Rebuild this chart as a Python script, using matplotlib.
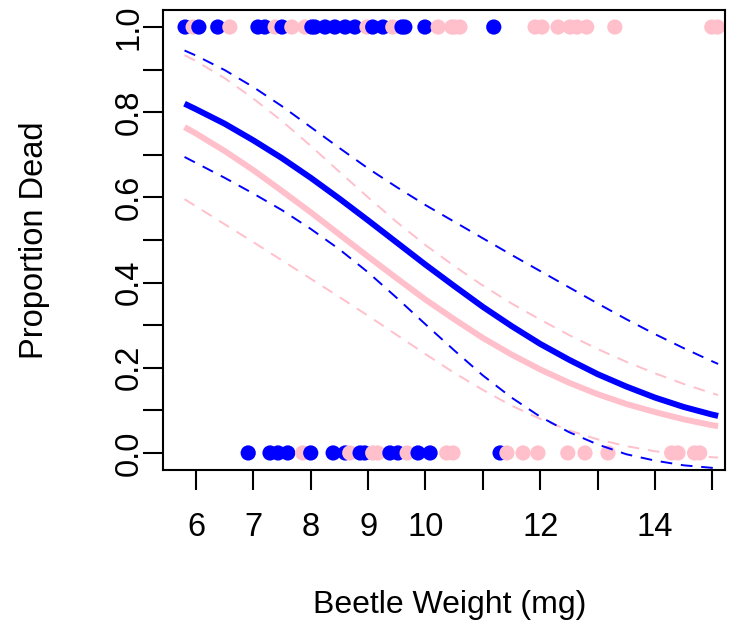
import matplotlib
matplotlib.use('Agg')
import matplotlib.pyplot as plt
import numpy as np

plt.rcParams['font.family'] = ['Liberation Sans', 'DejaVu Sans']

# observed beetles (x = weight in mg), 1 = dead, 0 = alive
blue_dead = [5.81, 6.05, 6.38, 7.08, 7.20, 7.50, 8.02, 8.07, 8.25, 8.42, 8.60, 8.77,
             9.08, 9.26, 9.59, 9.64, 9.99, 11.19]
blue_alive = [6.91, 7.29, 7.43, 7.60, 8.00, 8.39, 8.60, 8.86, 8.94, 9.38, 9.52, 9.87,
              10.08, 11.30]
pink_dead = [5.95, 6.59, 7.38, 7.67, 7.90, 8.98, 9.43, 10.22, 10.46, 10.51, 10.60, 11.91,
             12.03, 12.31, 12.52, 12.64, 12.81, 13.30, 14.99, 15.09]
pink_alive = [7.86, 8.68, 9.08, 9.17, 9.68, 10.37, 10.48, 11.42, 11.70, 11.96, 12.48,
              12.78, 13.18, 14.29, 14.40, 14.69, 14.78]

# fitted curves and their bands
curve_x = [5.8, 6.0, 6.5, 7.0, 7.5, 8.0, 8.5, 9.0, 9.5, 10.0, 10.5,
           11.0, 11.5, 12.0, 12.5, 13.0, 13.5, 14.0, 14.5, 15.0, 15.1]
blue_fit = [0.820, 0.807, 0.773, 0.734, 0.692, 0.646, 0.597, 0.546, 0.494, 0.442, 0.392,
            0.343, 0.298, 0.256, 0.219, 0.185, 0.156, 0.130, 0.108, 0.090, 0.087]
blue_up = [0.945, 0.933, 0.899, 0.859, 0.814, 0.765, 0.716, 0.668, 0.624, 0.582, 0.543,
           0.504, 0.465, 0.427, 0.389, 0.351, 0.314, 0.279, 0.246, 0.215, 0.209]
blue_lo = [0.695, 0.681, 0.646, 0.609, 0.570, 0.526, 0.478, 0.424, 0.364, 0.302, 0.241,
           0.182, 0.130, 0.085, 0.049, 0.020, -0.003, -0.018, -0.029, -0.035, -0.036]
pink_fit = [0.765, 0.750, 0.709, 0.664, 0.615, 0.565, 0.513, 0.461, 0.410, 0.360, 0.314,
            0.270, 0.231, 0.196, 0.165, 0.138, 0.115, 0.096, 0.079, 0.065, 0.063]
pink_up = [0.934, 0.920, 0.880, 0.832, 0.779, 0.721, 0.660, 0.600, 0.542, 0.488, 0.439,
           0.393, 0.351, 0.313, 0.277, 0.244, 0.214, 0.187, 0.162, 0.140, 0.136]
pink_lo = [0.596, 0.579, 0.537, 0.495, 0.452, 0.409, 0.366, 0.322, 0.277, 0.232, 0.188,
           0.148, 0.111, 0.080, 0.053, 0.032, 0.016, 0.004, -0.004, -0.010, -0.011]

x_ticks = [6, 7, 8, 9, 10, 11, 12, 13, 14, 15]
x_labels = ['6', '7', '8', '9', '10', '', '12', '', '14', '']
y_ticks = [0.0, 0.1, 0.2, 0.3, 0.4, 0.5, 0.6, 0.7, 0.8, 0.9, 1.0]
y_labels = ['0.0', '', '0.2', '', '0.4', '', '0.6', '', '0.8', '', '1.0']

BLUE = '#0000FF'
PINK = '#FFC0CB'
DASH = (0, (6, 4.5))

fig = plt.figure(figsize=(7.51, 6.28), dpi=100)
ax = fig.add_axes([163 / 751, 1 - 470 / 628, (725 - 163) / 751, (470 - 10) / 628])

# points, drawn in order of weight so the colours interleave
px = blue_dead + blue_alive + pink_dead + pink_alive
py = [1] * len(blue_dead) + [0] * len(blue_alive) + [1] * len(pink_dead) + [0] * len(pink_alive)
pc = [BLUE] * (len(blue_dead) + len(blue_alive)) + [PINK] * (len(pink_dead) + len(pink_alive))
order = np.argsort(px, kind='stable')
ax.scatter(np.array(px)[order], np.array(py)[order], c=np.array(pc)[order], s=120,
           linewidths=0, zorder=2)

ax.plot(curve_x, pink_fit, color=PINK, lw=4.3, solid_capstyle='butt', zorder=3)
ax.plot(curve_x, pink_up, color=PINK, lw=1.4, ls=DASH, zorder=3)
ax.plot(curve_x, pink_lo, color=PINK, lw=1.4, ls=DASH, zorder=3)
ax.plot(curve_x, blue_fit, color=BLUE, lw=4.3, solid_capstyle='butt', zorder=4)
ax.plot(curve_x, blue_up, color=BLUE, lw=1.4, ls=DASH, zorder=4)
ax.plot(curve_x, blue_lo, color=BLUE, lw=1.4, ls=DASH, zorder=4)

ax.set_xlim(5.425, 15.22)
ax.set_ylim(-0.04, 1.04)
ax.set_xticks(x_ticks)
ax.set_xticklabels(x_labels)
ax.set_yticks(y_ticks)
ax.set_yticklabels(y_labels, rotation=90, va='center')
ax.tick_params(length=14.5, width=1.5, labelsize=23.5)
ax.tick_params(axis='x', pad=16)
ax.tick_params(axis='y', pad=-1.5)
for s in ax.spines.values():
    s.set_linewidth(1.5)

ax.set_xlabel('Beetle Weight (mg)', fontsize=23, va='center')
ax.set_ylabel('Proportion Dead', fontsize=23.5, va='center')
ax.xaxis.set_label_coords(0.51, -(605 - 470) / 460)
ax.yaxis.set_label_coords(-(163 - 35) / 562, 0.5)

fig.savefig('out.png', dpi=100)
